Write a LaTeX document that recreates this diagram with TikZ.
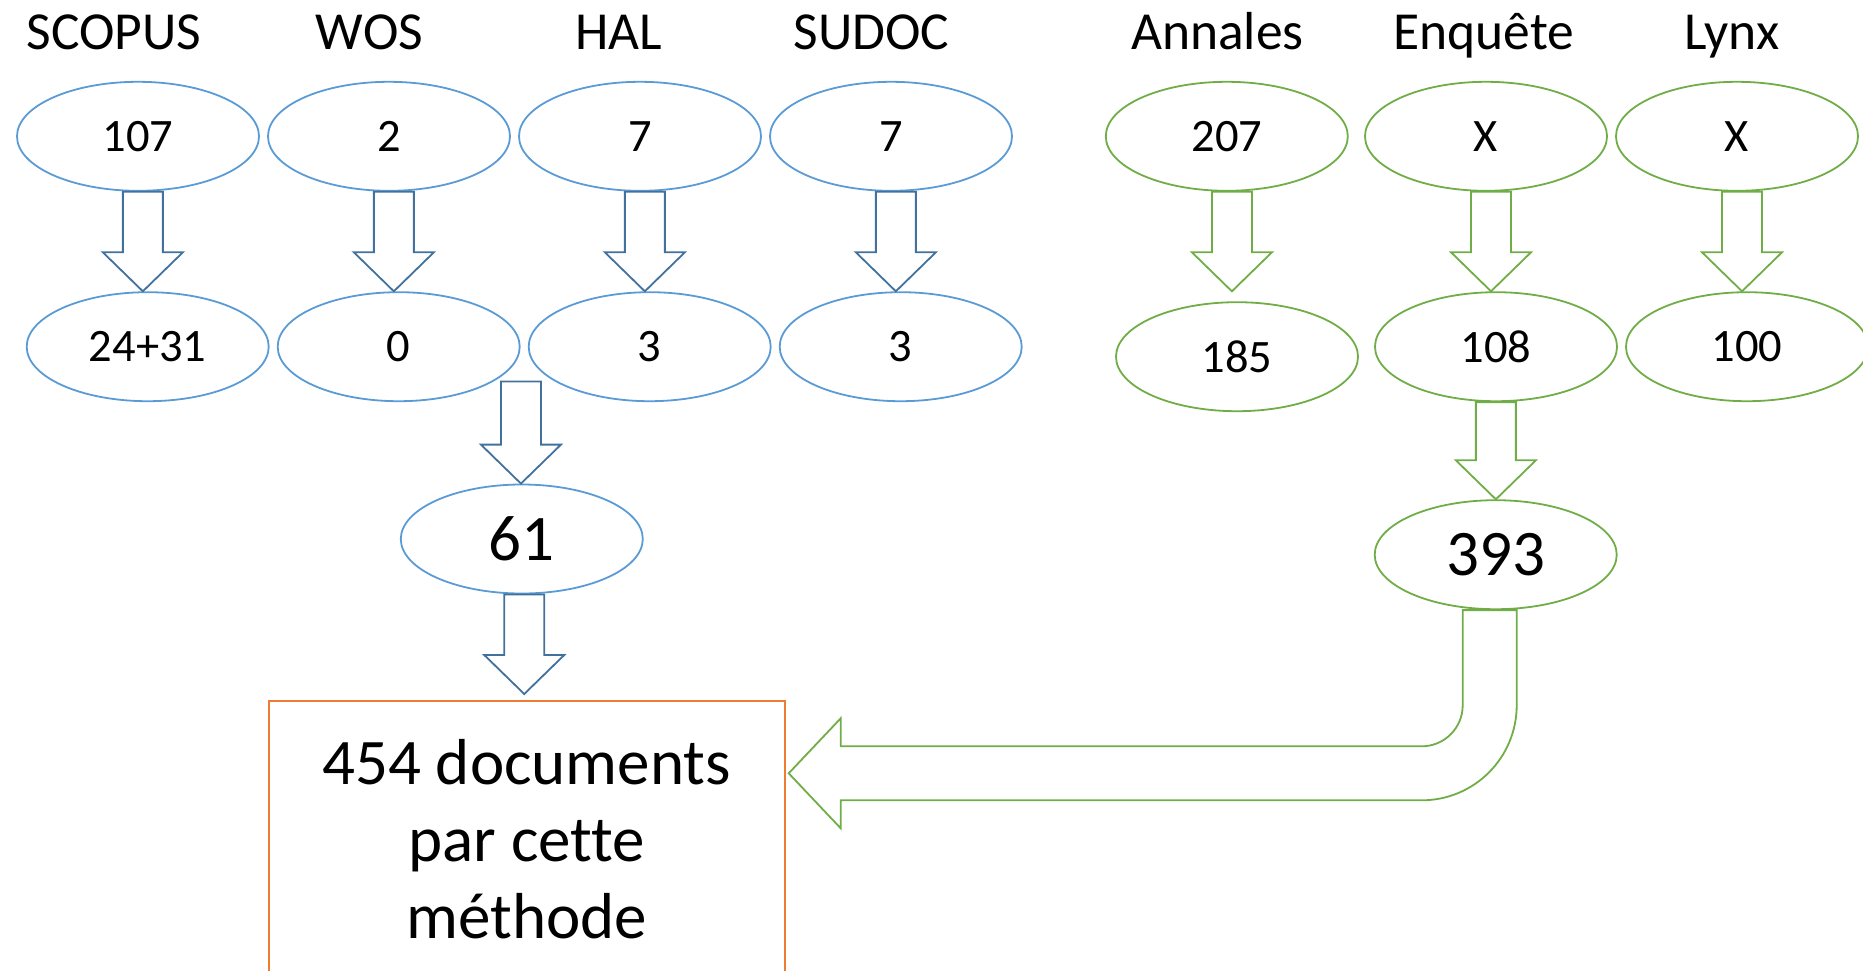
\documentclass[tikz,border=0pt]{standalone}
\usepackage{fontspec}
\setmainfont{Carlito}[Ligatures=NoCommon]
\usetikzlibrary{shapes.geometric,positioning,calc}
\definecolor{srcblue}{HTML}{5B9BD5}
\definecolor{arrblue}{HTML}{41719C}
\definecolor{grnline}{HTML}{70AD47}
\definecolor{boxorange}{HTML}{ED7D31}

\begin{document}
\begin{tikzpicture}[x=1pt,y=-1pt,node distance=251pt,line width=1.8pt,
    src/.style={ellipse,draw=srcblue,minimum width=242pt,minimum height=109pt,
                inner sep=0pt,font=\fontsize{46.5}{56}\selectfont},
    grn/.style={src,draw=grnline},
    big/.style={font=\fontsize{65}{78}\selectfont},
    lbl/.style={anchor=base,font=\fontsize{53.5}{64}\selectfont},
    fat/.style={to path={let \p1=(\tikztostart),\p2=(\tikztotarget),
                \p3=($(\p1)!.5!(\p2)$) in
                (\x3-20pt,\y1) -- (\x3+20pt,\y1) -- (\x3+20pt,\y2+39pt)
                -- (\x3+40pt,\y2+39pt) -- (\x3,\y2) -- (\x3-40pt,\y2+39pt)
                -- (\x3-20pt,\y2+39pt) -- cycle}},
    bfat/.style={fat,draw=arrblue},
    gfat/.style={fat,draw=grnline}]

  \useasboundingbox (0,0) rectangle (1863,970);

  % sources
  \node[lbl] (lscopus) at (113.8,49.3) {SCOPUS};
  \node[lbl] (lwos)    at (369.5,49.3) {WOS};
  \node[lbl] (lhal)    at (618.5,49.3) {HAL};
  \node[lbl] (lsudoc)  at (871.5,49.3) {SUDOC};
  \node[lbl] (lann)    at (1217.5,49.3) {Annales};
  \node[lbl] (lenq)    at (1483.7,49.3) {Enquête};
  \node[lbl] (llynx)   at (1732,49.3) {Lynx};

  \node[src] (s1) at (138,136.3) {107};
  \node[src] (s2) [right of=s1] {2};
  \node[src] (s3) [right of=s2] {7};
  \node[src] (s4) [right of=s3] {7};

  \node[src] (t1) at (147.7,346.7) {24+31};
  \node[src] (t2) [right of=t1] {0};
  \node[src] (t3) [right of=t2] {3};
  \node[src] (t4) [right of=t3] {3};

  \node[grn] (a1) at (1226.8,136.3) {207};
  \node[grn] (a2) at (1486,136.3) {X};
  \node[grn] (a3) [right of=a2] {X};

  \node[grn] (b1) at (1237,356.7) {185};
  \node[grn] (b2) at (1496,346.7) {108};
  \node[grn] (b3) [right of=b2] {100};

  % totals
  \node[src,big] (n61)  at (521.8,539) {61};
  \node[grn,big] (n393) at (1495.7,554.7) {393};

  \node[draw=boxorange,line width=2pt,anchor=north,minimum width=516pt,
        minimum height=277pt,align=center,font=\fontsize{65}{77}\selectfont]
        (box) at (526.7,700) {454 documents\\par cette\\méthode};

  \coordinate (sum1) at (520.1,381.5);
  \coordinate (tip) at ($(box.north east)+(3,73.3)$);

  \path (s1.south) edge[bfat] (t1.north)
        (s2.south) edge[bfat] (t2.north)
        (s3.south) edge[bfat] (t3.north)
        (s4.south) edge[bfat] (t4.north)
        (sum1)     edge[bfat] (n61.north)
        (n61.south) edge[bfat] ($(box.north)+(0,-6)$);

  \path (a1.south) edge[gfat] ($(b1.north)+(0,-10)$)
        (a2.south) edge[gfat] (b2.north)
        (a3.south) edge[gfat] (b3.north)
        (b2.south) edge[gfat] (n393.north);

  % bent arrow into the box
  \draw[grnline] let \p1=($(n393.south)+(-6,0)$), \p2=(tip) in
    (\p2) -- (\x2+52pt,\y2+55pt) -- (\x2+52pt,\y2+27pt) -- (\x1-68pt,\y2+27pt)
    arc[start angle=-90,end angle=0,radius=41pt] -- (\x1-27pt,\y1)
    -- (\x1+27pt,\y1) -- (\x1+27pt,\y2+68pt)
    arc[start angle=0,end angle=-90,radius=95pt]
    -- (\x2+52pt,\y2-27pt) -- (\x2+52pt,\y2-55pt) -- cycle;
\end{tikzpicture}
\end{document}
